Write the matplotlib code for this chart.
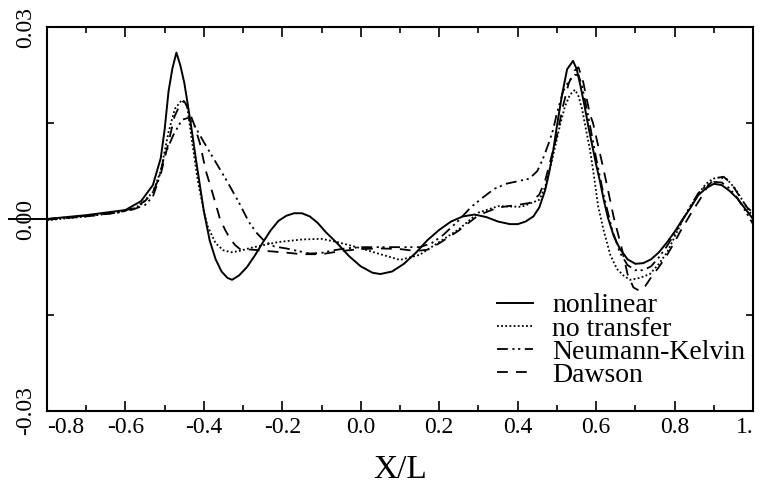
import matplotlib
matplotlib.use('Agg')
import matplotlib.pyplot as plt
import matplotlib.lines as mlines

plt.rcParams['font.family'] = ['Liberation Serif', 'DejaVu Serif']

# wave profiles, x = X/L
nl_x = [-0.80, -0.70, -0.60, -0.56, -0.53, -0.51, -0.50, -0.49, -0.48, -0.47,
        -0.46, -0.45, -0.44, -0.43, -0.42, -0.41, -0.40, -0.385, -0.37, -0.355,
        -0.34, -0.328, -0.31, -0.29, -0.27, -0.25, -0.23, -0.21, -0.19, -0.17,
        -0.15, -0.13, -0.11, -0.09, -0.06, -0.03, 0.00, 0.03, 0.05, 0.08,
        0.11, 0.14, 0.17, 0.20, 0.23, 0.26, 0.29, 0.32, 0.35, 0.38,
        0.40, 0.42, 0.44, 0.455, 0.47, 0.48, 0.49, 0.50, 0.513, 0.526,
        0.541, 0.55, 0.56, 0.57, 0.58, 0.59, 0.60, 0.61, 0.62, 0.63,
        0.645, 0.66, 0.68, 0.70, 0.72, 0.74, 0.76, 0.78, 0.80, 0.82,
        0.84, 0.86, 0.88, 0.90, 0.92, 0.94, 0.96, 0.98, 1.00]
nl_y = [0.0000, 0.0006, 0.0014, 0.0028, 0.0053, 0.0095, 0.0140, 0.0200, 0.0236, 0.0260,
        0.0240, 0.0213, 0.0175, 0.0135, 0.0092, 0.0052, 0.0012, -0.0034, -0.0063, -0.0082,
        -0.0092, -0.0095, -0.0088, -0.0075, -0.0057, -0.0037, -0.0018, -0.0003, 0.0005, 0.0009,
        0.0009, 0.0004, -0.0006, -0.0020, -0.0038, -0.0058, -0.0074, -0.0084, -0.0086, -0.0082,
        -0.0070, -0.0053, -0.0033, -0.0017, -0.0004, 0.0004, 0.0007, 0.0003, -0.0004, -0.0008,
        -0.0008, -0.0004, 0.0004, 0.0018, 0.0045, 0.0072, 0.0105, 0.0145, 0.0194, 0.0234,
        0.0247, 0.0235, 0.0208, 0.0178, 0.0145, 0.0115, 0.0085, 0.0058, 0.0028, 0.0002,
        -0.0027, -0.0046, -0.0063, -0.0070, -0.0069, -0.0063, -0.0052, -0.0037, -0.0020, -0.0001,
        0.0017, 0.0037, 0.0048, 0.0055, 0.0053, 0.0044, 0.0032, 0.0016, 0.0000]

nt_x = [-0.80, -0.70, -0.62, -0.58, -0.56, -0.53, -0.51, -0.49, -0.474, -0.456,
        -0.443, -0.43, -0.415, -0.40, -0.39, -0.37, -0.35, -0.33, -0.31, -0.28,
        -0.25, -0.21, -0.15, -0.10, -0.06, -0.01, 0.05, 0.10, 0.15, 0.20,
        0.25, 0.30, 0.35, 0.41, 0.455, 0.47, 0.482, 0.495, 0.508, 0.52,
        0.533, 0.546, 0.555, 0.564, 0.574, 0.584, 0.595, 0.605, 0.62, 0.636,
        0.653, 0.669, 0.686, 0.705, 0.72, 0.737, 0.76, 0.781, 0.80, 0.822,
        0.843, 0.865, 0.88, 0.898, 0.915, 0.934, 0.955, 0.975, 1.00]
nt_y = [-0.0002, 0.0004, 0.0010, 0.0016, 0.0023, 0.0042, 0.0075, 0.0136, 0.0172, 0.0186,
        0.0178, 0.0120, 0.0058, 0.0012, -0.0012, -0.0038, -0.0049, -0.0052, -0.0050, -0.0045,
        -0.0041, -0.0036, -0.0032, -0.0031, -0.0036, -0.0044, -0.0055, -0.0064, -0.0056, -0.0036,
        -0.0016, 0.0010, 0.0020, 0.0019, 0.0030, 0.0050, 0.0078, 0.0112, 0.0147, 0.0175,
        0.0194, 0.0202, 0.0192, 0.0172, 0.0140, 0.0109, 0.0065, 0.0020, -0.0020, -0.0056,
        -0.0078, -0.0088, -0.0095, -0.0093, -0.0090, -0.0086, -0.0070, -0.0052, -0.0028, 0.0000,
        0.0022, 0.0043, 0.0055, 0.0063, 0.0065, 0.0062, 0.0047, 0.0027, 0.0003]

nk_x = [-0.80, -0.70, -0.62, -0.58, -0.55, -0.53, -0.517, -0.50, -0.478, -0.456,
        -0.44, -0.425, -0.40, -0.37, -0.34, -0.31, -0.285, -0.265, -0.245, -0.22,
        -0.19, -0.16, -0.13, -0.10, -0.07, -0.04, 0.00, 0.05, 0.10, 0.15,
        0.18, 0.21, 0.25, 0.28, 0.31, 0.34, 0.37, 0.40, 0.43, 0.45,
        0.465, 0.48, 0.49, 0.50, 0.516, 0.53, 0.545, 0.555, 0.565, 0.58,
        0.60, 0.62, 0.64, 0.66, 0.68, 0.70, 0.72, 0.74, 0.76, 0.78,
        0.80, 0.82, 0.84, 0.86, 0.88, 0.90, 0.92, 0.94, 0.96, 0.98, 1.00]
nk_y = [0.0000, 0.0005, 0.0010, 0.0015, 0.0022, 0.0035, 0.0058, 0.0100, 0.0131, 0.0155,
        0.0158, 0.0147, 0.0120, 0.0089, 0.0058, 0.0025, -0.0005, -0.0022, -0.0035, -0.0043,
        -0.0046, -0.0050, -0.0054, -0.0053, -0.0049, -0.0046, -0.0044, -0.0044, -0.0044, -0.0044,
        -0.0038, -0.0025, -0.0002, 0.0018, 0.0033, 0.0047, 0.0055, 0.0059, 0.0063, 0.0075,
        0.0095, 0.0120, 0.0139, 0.0165, 0.0200, 0.0215, 0.0225, 0.0225, 0.0205, 0.0160,
        0.0095, 0.0035, -0.0015, -0.0052, -0.0072, -0.0080, -0.0080, -0.0074, -0.0060, -0.0043,
        -0.0023, -0.0002, 0.0020, 0.0040, 0.0052, 0.0058, 0.0057, 0.0048, 0.0033, 0.0013, -0.0008]

dw_x = [-0.80, -0.70, -0.62, -0.58, -0.55, -0.53, -0.51, -0.49, -0.475, -0.46,
        -0.45, -0.44, -0.425, -0.41, -0.395, -0.384, -0.37, -0.359, -0.345, -0.333,
        -0.32, -0.308, -0.275, -0.24, -0.20, -0.15, -0.10, -0.05, 0.00, 0.05,
        0.10, 0.14, 0.17, 0.20, 0.25, 0.30, 0.35, 0.40, 0.43, 0.455,
        0.47, 0.485, 0.50, 0.515, 0.53, 0.545, 0.555, 0.567, 0.584, 0.592,
        0.605, 0.618, 0.632, 0.645, 0.665, 0.68, 0.695, 0.71, 0.725, 0.737,
        0.76, 0.781, 0.80, 0.814, 0.84, 0.865, 0.885, 0.905, 0.925, 0.945,
        0.965, 0.985, 1.00]
dw_y = [-0.0001, 0.0004, 0.0010, 0.0017, 0.0028, 0.0042, 0.0070, 0.0120, 0.0160, 0.0180,
        0.0184, 0.0172, 0.0148, 0.0118, 0.0075, 0.0053, 0.0024, 0.0000, -0.0018, -0.0031,
        -0.0041, -0.0047, -0.0048, -0.0050, -0.0052, -0.0055, -0.0055, -0.0050, -0.0047, -0.0046,
        -0.0047, -0.0050, -0.0048, -0.0038, -0.0018, 0.0006, 0.0018, 0.0022, 0.0025, 0.0038,
        0.0060, 0.0095, 0.0130, 0.0175, 0.0212, 0.0232, 0.0237, 0.0214, 0.0164, 0.0150,
        0.0115, 0.0080, 0.0040, 0.0002, -0.0045, -0.0086, -0.0107, -0.0112, -0.0105, -0.0094,
        -0.0075, -0.0056, -0.0036, -0.0020, 0.0007, 0.0031, 0.0052, 0.0064, 0.0066, 0.0055,
        0.0036, 0.0018, 0.0010]

x_ticks = [-0.8, -0.6, -0.4, -0.2, 0.0, 0.2, 0.4, 0.6, 0.8, 1.0]
x_labels = ['-0.8', '-0.6', '-0.4', '-0.2', '0.0', '0.2', '0.4', '0.6', '0.8', '1.']
y_ticks = [-0.03, 0.0, 0.03]
y_labels = ['-0.03', '0.00', '0.03']

fig = plt.figure(figsize=(7.7, 5), dpi=100)
ax = fig.add_axes([0.061, 0.178, 0.917, 0.768])

ax.plot(nl_x, nl_y, color='black', lw=1.4, linestyle='-', label='nonlinear')
ax.plot(nt_x, nt_y, color='black', lw=1.3, linestyle=(0, (1, 1.3)), label='no transfer')
ax.plot(nk_x, nk_y, color='black', lw=1.3, linestyle=(0, (6, 2.5, 1.2, 2, 1.2, 2.5)),
        label='Neumann-Kelvin')
ax.plot(dw_x, dw_y, color='black', lw=1.3, linestyle=(0, (6, 4.5)), label='Dawson')

ax.set_xlim(-0.8, 1.0)
ax.set_ylim(-0.03, 0.03)

ax.set_xticks(x_ticks)
ax.set_xticklabels(x_labels, fontsize=17)
ax.set_xticks([t + 0.1 for t in x_ticks[:-1]], minor=True)
ax.tick_params(axis='x', which='both', direction='in', top=True, width=1.2, pad=4)
ax.tick_params(axis='x', which='major', length=7)
ax.tick_params(axis='x', which='minor', length=4)
xl = ax.get_xticklabels()
xl[0].set_ha('left')
xl[-1].set_ha('right')

ax.set_yticks(y_ticks)
ax.set_yticklabels(y_labels, fontsize=17, rotation=90, va='center')
ax.set_yticks([-0.015, 0.015], minor=True)
ax.tick_params(axis='y', which='major', length=0, pad=8)
ax.tick_params(axis='y', which='minor', direction='in', right=True, length=5, width=1.2)
# the zero tick on the left runs out through its label
zt = ax.yaxis.get_major_ticks()[1]
zt.tick1line.set_marker(mlines.TICKLEFT)
zt.tick1line.set_markersize(28)
zt.tick1line.set_markeredgewidth(1.4)

for s in ax.spines.values():
    s.set_linewidth(1.5)

ax.set_xlabel('X/L', fontsize=24, labelpad=12)

ax.legend(loc='lower left', bbox_to_anchor=(0.637, 0.06), frameon=False, fontsize=20,
          handlelength=1.3, handletextpad=0.7, labelspacing=-0.08, borderpad=0,
          borderaxespad=0)

fig.savefig('out.png', dpi=100)
